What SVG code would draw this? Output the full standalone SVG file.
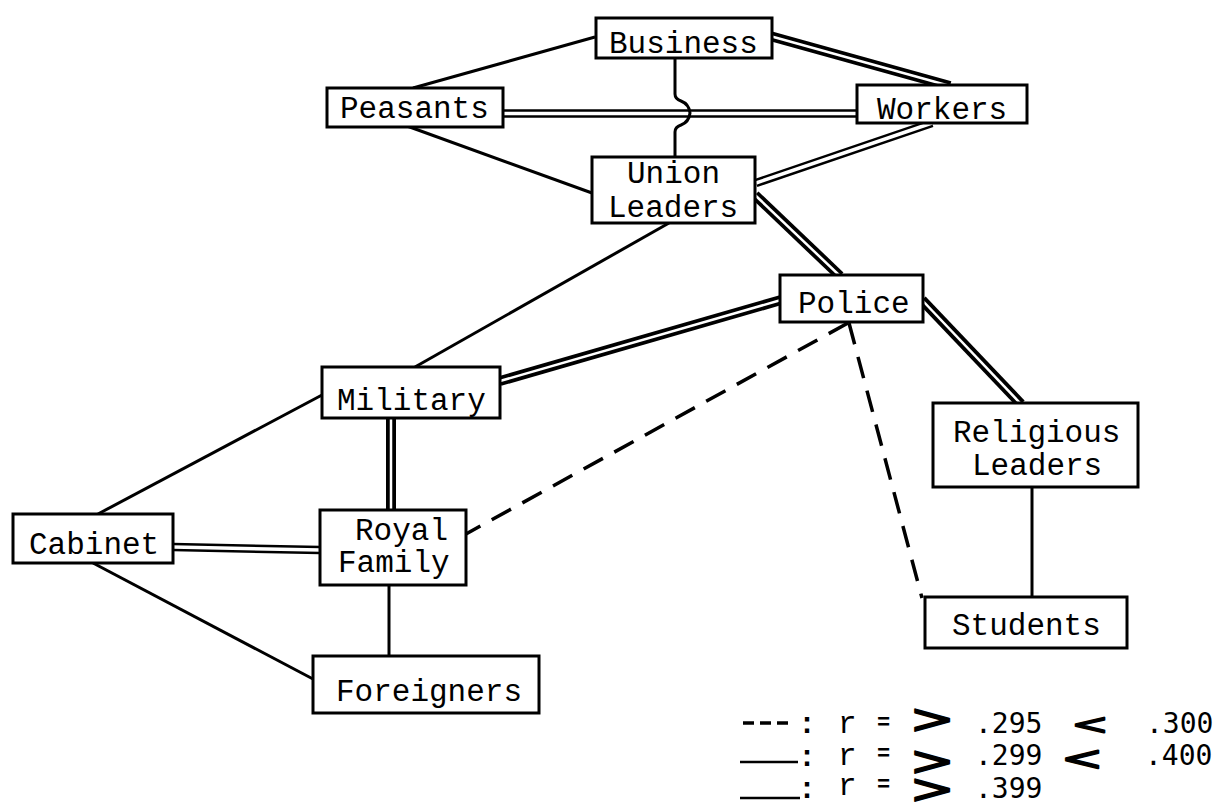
<svg xmlns="http://www.w3.org/2000/svg" width="1222" height="804" viewBox="0 0 1222 804">
<style>
.box{fill:#fff;stroke:#000;stroke-width:3}
.lbl{font-family:"Liberation Mono","Courier New",monospace;font-size:31px;fill:#000}
.single{stroke:#000;stroke-width:3;fill:none}
.thinA{stroke:#000;stroke-width:8.5;fill:none}
.thinB{stroke:#fff;stroke-width:3.5;fill:none}
.heavyA{stroke:#000;stroke-width:10;fill:none}
.heavyB{stroke:#fff;stroke-width:2.5;fill:none}
.dash{stroke:#000;stroke-width:3.5;fill:none;stroke-dasharray:22 13}
.num{font-family:"DejaVu Sans Mono",monospace;font-size:28px;fill:#000}
.sym{font-family:"DejaVu Sans",sans-serif;fill:#000;stroke:#000;stroke-width:1.6;stroke-linejoin:round;text-anchor:middle}
.mono{font-family:"Liberation Mono",monospace;fill:#000}
</style>
<rect width="1222" height="804" fill="#fff"/>
<g id="connectors">
  <line class="single" x1="595" y1="37" x2="413" y2="88"/>
  <line class="heavyA" x1="770" y1="36" x2="950" y2="86"/>
  <line class="heavyB" x1="770" y1="36" x2="950" y2="86"/>
  <line class="thinA" x1="503" y1="113.5" x2="857" y2="113.5"/>
  <line class="thinB" x1="503" y1="113.5" x2="857" y2="113.5"/>
  <path class="single" d="M675,58 V94 Q675,99 681,101 Q689,104 690,113 Q689,122 681,125 Q675,127 675,132 V157"/>
  <line class="single" x1="407" y1="126" x2="592" y2="193"/>
  <line class="thinA" x1="932" y1="123" x2="756" y2="183"/>
  <line class="thinB" x1="932" y1="123" x2="756" y2="183"/>
  <line class="heavyA" x1="755" y1="195" x2="840" y2="276"/>
  <line class="heavyB" x1="755" y1="195" x2="840" y2="276"/>
  <line class="single" x1="669" y1="223" x2="415" y2="367"/>
  <line class="heavyA" x1="922" y1="300" x2="1021" y2="404"/>
  <line class="heavyB" x1="922" y1="300" x2="1021" y2="404"/>
  <line class="heavyA" x1="500" y1="381" x2="781" y2="300"/>
  <line class="heavyB" x1="500" y1="381" x2="781" y2="300"/>
  <line class="single" x1="322" y1="395" x2="98" y2="514"/>
  <line class="heavyA" x1="391" y1="418" x2="391" y2="510"/>
  <line class="heavyB" x1="391" y1="418" x2="391" y2="510"/>
  <line class="thinA" x1="173" y1="547" x2="320" y2="550"/>
  <line class="thinB" x1="173" y1="547" x2="320" y2="550"/>
  <line class="single" x1="93" y1="563" x2="313" y2="679"/>
  <line class="single" x1="389" y1="585" x2="389" y2="656"/>
  <line class="single" x1="1032" y1="487" x2="1032" y2="597"/>
  <line class="dash" x1="848" y1="323" x2="466" y2="534"/>
  <line class="dash" x1="849" y1="323" x2="922" y2="598"/>
</g>
<g id="business"><rect class="box" x="596" y="18" width="176" height="40"/><text class="lbl" x="609" y="53">Business</text></g>
<g id="peasants"><rect class="box" x="327" y="88" width="176" height="39"/><text class="lbl" x="340" y="118">Peasants</text></g>
<g id="workers"><rect class="box" x="857" y="85" width="170" height="38"/><text class="lbl" x="877" y="119">Workers</text></g>
<g id="union-leaders"><rect class="box" x="592" y="157" width="163" height="66"/><text class="lbl" x="627" y="183">Union</text><text class="lbl" x="608" y="217">Leaders</text></g>
<g id="police"><rect class="box" x="780" y="275" width="143" height="47"/><text class="lbl" x="798" y="313">Police</text></g>
<g id="religious-leaders"><rect class="box" x="933" y="403" width="205" height="84"/><text class="lbl" x="953" y="442">Religious</text><text class="lbl" x="972" y="475">Leaders</text></g>
<g id="students"><rect class="box" x="925" y="597" width="202" height="51"/><text class="lbl" x="952" y="635">Students</text></g>
<g id="military"><rect class="box" x="322" y="367" width="178" height="51"/><text class="lbl" x="337" y="410">Military</text></g>
<g id="royal-family"><rect class="box" x="320" y="510" width="146" height="75"/><text class="lbl" x="355" y="540">Royal</text><text class="lbl" x="338" y="572">Family</text></g>
<g id="cabinet"><rect class="box" x="13" y="514" width="160" height="49"/><text class="lbl" x="29" y="554">Cabinet</text></g>
<g id="foreigners"><rect class="box" x="313" y="656" width="226" height="57"/><text class="lbl" x="336" y="701">Foreigners</text></g>
<g id="legend">
  <line x1="743" y1="723" x2="793" y2="723" stroke="#000" stroke-width="3.5" stroke-dasharray="11 6"/>
  <line x1="740" y1="762" x2="798" y2="762" stroke="#000" stroke-width="2.5"/>
  <line x1="740" y1="798" x2="800" y2="798" stroke="#000" stroke-width="2.5"/>
  <text class="mono" x="798" y="733" font-size="30" font-weight="bold">:</text>
  <text class="mono" x="798" y="766" font-size="30" font-weight="bold">:</text>
  <text class="mono" x="798" y="798" font-size="30" font-weight="bold">:</text>
  <text class="mono" x="838" y="733" font-size="31">r</text>
  <text class="mono" x="838" y="765" font-size="31">r</text>
  <text class="mono" x="838" y="795" font-size="31">r</text>
  <text class="mono" x="877" y="729" font-size="22" font-weight="bold">=</text>
  <text class="mono" x="877" y="760" font-size="22" font-weight="bold">=</text>
  <text class="mono" x="877" y="791" font-size="22" font-weight="bold">=</text>
  <text class="sym" transform="translate(932,733) scale(1.35,1)" font-size="40">&gt;</text>
  <text class="sym" transform="translate(932,775) scale(1.35,1)" font-size="40">&gt;</text>
  <text class="sym" transform="translate(932,803) scale(1.35,1)" font-size="40">&gt;</text>
  <text class="sym" transform="translate(1090,734) scale(1.6,1)" font-size="28">&lt;</text>
  <text class="sym" transform="translate(1082,770) scale(1.5,1)" font-size="34">&lt;</text>
  <text class="num" x="975" y="733">.295</text>
  <text class="num" x="975" y="765">.299</text>
  <text class="num" x="975" y="798">.399</text>
  <text class="num" x="1146" y="733">.300</text>
  <text class="num" x="1145" y="765">.400</text>
</g>
</svg>
